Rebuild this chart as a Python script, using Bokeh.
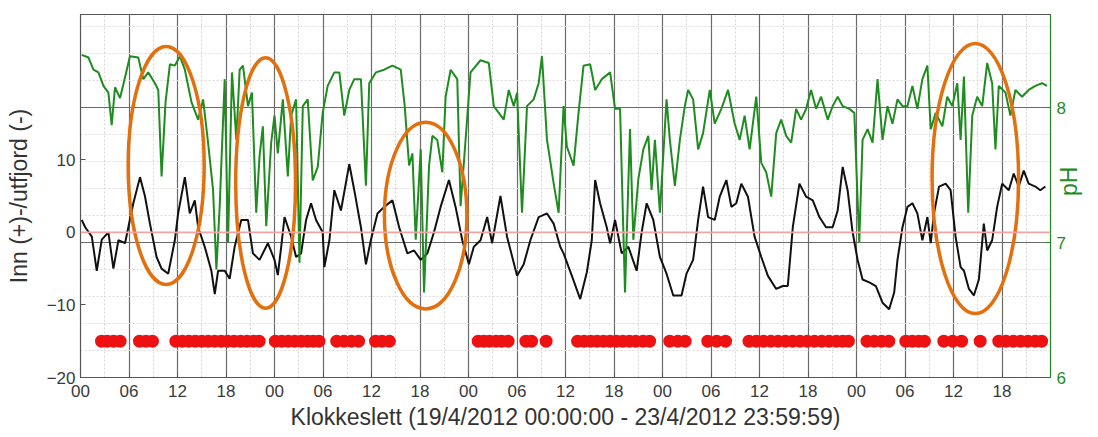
import math
from bokeh.plotting import figure
from bokeh.models import Range1d, LinearAxis, FixedTicker, Grid, Span
from bokeh.embed import file_html
from bokeh.resources import INLINE

# ---------------- data (hours since 19/4/2012 00:00) ----------------
black_h = [0.16,0.58,1.40,2.01,2.63,3.45,4.07,4.69,5.51,5.92,6.54,7.36,7.97,8.59,9.41,10.03,10.85,11.67,12.08,12.91,
           13.52,14.14,14.55,15.37,16.19,16.61,17.02,17.84,18.45,19.07,19.89,20.72,21.33,22.15,23.18,24.0,24.41,24.83,25.24,26.06,
           26.67,27.29,27.91,28.52,29.14,29.96,
           30.17,30.79,31.40,32.22,33.25,33.87,34.69,35.31,35.92,36.74,37.57,38.59,39.42,40.44,41.27,42.09,42.91,43.73,44.55,45.58,
           46.40,47.23,48.05,48.66,49.49,50.31,50.92,51.95,52.77,54.01,54.83,55.65,56.68,57.71,58.53,59.35,
           59.76,60.79,61.82,62.64,63.25,63.67,64.28,65.1,65.52,66.13,66.95,67.78,68.80,69.42,70.04,70.86,71.68,72.5,73.33,74.35,
           74.97,75.79,76.41,77.02,77.64,78.46,79.08,79.90,80.52,81.13,81.75,82.57,83.39,84.22,85.04,86.07,86.89,87.5,88.12,88.94,
           89.77,90.59,91.41,92.23,93.05,93.67,94.29,94.90,95.52,96.14,96.75,97.58,98.40,99.22,100.04,100.66,101.07,101.69,102.30,102.92,
           103.53,104.15,104.77,105.18,105.59,106.21,107.03,107.64,108.26,108.88,109.29,109.91,110.52,111.14,111.75,112.17,112.78,113.40,114.02,114.84,
           115.45,116.07,116.69,117.30,118.13,118.74,119.36]
inn_ut = [1.7,0.7,-0.6,-5.3,-1.0,0.0,-5.0,-1.1,-1.5,0.7,4.0,7.6,5.0,1.2,-3.4,-5.0,-5.7,-1.1,2.6,7.6,
          2.6,4.4,0.7,-2.0,-5.3,-8.5,-5.3,-5.3,-6.4,-2.0,1.7,1.7,-2.9,-3.8,-1.5,-3.8,-5.9,-2.0,2.1,-0.6,
          -3.4,-2.9,1.7,4.0,1.7,0.0,
          -4.8,-1.1,5.8,3.0,9.4,5.8,0.7,-4.4,-1.1,2.6,3.5,4.4,0.7,-2.9,-2.5,-3.8,-2.9,0.0,3.5,7.2,
          3.5,-1.1,-4.4,-2.0,-1.1,2.1,-1.5,5.0,-0.6,-6.0,-4.4,-1.1,2.1,2.6,1.2,-2.0,
          -2.9,-6.0,-9.2,-5.5,-1.1,7.2,4.0,0.7,-1.5,1.7,-2.9,-2.0,-5.3,0.0,4.0,1.7,-3.4,-5.7,-8.7,-8.7,
          -5.7,-3.8,1.7,6.3,2.1,1.7,4.9,7.2,3.5,4.0,6.7,4.9,-0.6,-3.4,-6.0,-7.8,-7.4,-7.4,0.7,6.7,
          4.9,4.4,2.1,0.7,0.7,3.0,9.0,5.8,0.0,-3.8,-6.5,-6.9,-7.4,-9.7,-10.6,-8.3,-3.8,0.7,3.5,4.0,
          2.6,-1.1,2.1,-1.5,2.6,6.3,6.7,5.8,-0.6,-4.8,-5.3,-7.8,-8.7,-6.5,1.2,-2.5,-1.1,3.5,6.7,5.8,
          8.1,6.3,8.5,6.7,6.3,5.8,6.3]

ph_h = [0.16,0.99,1.60,2.22,2.84,3.45,3.86,4.27,4.89,5.30,6.12,7.15,7.77,8.38,9.21,9.62,10.03,10.52,11.06,11.67,
        12.29,12.91,13.73,14.55,15.17,15.78,16.40,16.81,17.22,17.84,18.25,18.74,19.28,19.69,20.1,20.72,21.21,21.74,22.15,22.56,
        22.98,23.59,24.0,24.41,25.03,25.65,26.06,26.67,27.09,27.5,28.11,28.73,29.35,
        29.96,30.58,31.40,32.02,32.63,33.25,33.87,34.69,35.31,35.72,36.54,37.57,38.59,39.62,40.11,40.65,41.06,41.47,42.09,42.5,
        43.12,43.53,44.14,44.76,45.17,45.79,46.61,47.02,47.64,48.25,49.49,50.51,51.13,52.36,52.98,53.6,54.01,54.62,55.24,56.06,
        56.68,57.09,57.71,58.53,59.15,
        59.76,60.17,61.0,61.61,62.23,63.05,63.67,64.49,65.52,66.13,66.75,67.36,67.98,68.39,69.01,69.63,70.24,70.65,71.06,71.68,
        72.5,72.91,73.53,74.15,74.76,75.17,75.79,76.41,77.02,77.85,78.46,79.28,80.11,80.93,81.55,82.16,82.78,83.6,84.22,84.83,
        85.45,86.07,86.68,87.30,87.92,88.53,89.15,
        89.77,90.38,91.0,91.62,92.44,93.05,93.67,94.29,95.11,95.73,96.34,96.75,97.37,97.99,98.60,99.22,99.84,100.45,101.07,101.69,
        102.30,102.92,103.53,104.15,104.77,105.18,105.80,106.62,107.23,107.85,108.47,108.88,109.29,109.82,110.32,110.93,111.55,112.17,112.78,113.19,
        113.60,114.43,115.04,115.66,116.48,117.30,118.13,118.95,119.56]
ph_vals = [8.39,8.37,8.28,8.26,8.16,8.11,7.87,8.15,8.07,8.17,8.38,8.37,8.21,8.26,8.18,8.13,7.49,8.04,8.32,8.31,
           8.38,8.28,8.04,7.91,8.06,7.74,7.39,6.80,7.27,8.21,7.00,8.26,7.76,8.28,8.31,8.01,8.11,7.22,7.64,7.86,
           7.12,7.74,7.94,7.66,8.06,7.49,7.94,8.06,6.85,8.01,8.06,7.46,7.56,
           7.96,8.16,8.26,8.26,7.94,8.13,8.21,8.21,7.42,8.18,8.26,8.28,8.31,8.28,8.01,7.57,7.66,7.02,7.69,6.63,
           7.57,7.79,7.76,7.52,8.08,8.28,8.21,7.27,7.76,8.26,8.35,8.33,8.01,7.91,8.13,8.01,8.11,7.22,8.01,8.06,
           8.18,8.38,7.76,7.44,7.22,
           8.01,7.71,7.57,7.96,8.31,8.32,8.13,8.21,8.26,7.99,7.99,6.63,7.84,7.02,7.47,7.69,7.79,7.39,7.76,7.22,
           8.06,7.76,7.42,7.76,8.01,8.13,8.06,7.69,7.81,8.13,7.88,7.99,8.13,7.88,7.76,7.94,7.69,8.08,7.59,7.52,
           7.34,7.81,7.91,7.79,7.74,7.99,7.91,
           7.99,8.13,7.99,8.08,7.91,8.01,8.08,8.01,7.99,7.96,7.00,7.76,7.84,7.74,8.21,7.76,8.01,7.88,8.06,8.01,
           8.01,8.16,7.99,8.21,8.31,7.84,7.96,7.86,8.08,8.01,8.18,7.76,8.23,7.22,7.94,8.08,8.01,8.33,8.18,7.69,
           8.16,8.11,7.94,8.13,8.08,8.13,8.16,8.18,8.16]

flag_h = [2.6,3.3,4.1,4.9, 7.3,8.1,8.9,
          11.8,12.6,13.4,14.2,15.0,15.8,16.6,17.4,18.2,19.0,19.8,20.6,21.4,22.1,
          24.1,24.9,25.7,26.5,27.3,28.1,28.8,29.5, 31.7,32.6,33.5,34.4, 36.5,37.3,38.2,
          49.2,49.9,50.6,51.4,52.1,52.9, 55.1,55.8, 57.6,
          61.5,62.3,63.1,63.9,64.7,65.5,66.3,67.1,67.9,68.7,69.6,70.4, 72.9,73.9,74.8, 77.6,78.7,79.8,
          82.7,83.6,84.5,85.4,86.3,87.2,88.1,89.0,89.9,90.8,91.7,92.6,93.5,94.3,95.0,
          97.3,98.2,99.1,100.0, 102.1,102.9,103.7,104.4, 106.8,107.9,109.0, 111.3,
          113.6,114.5,115.4,116.3,117.2,118.1,118.9]
flag_level = -15

# highlighted periods (orange ellipses): centre hour, centre value, width (h), height
mark_x = [10.6, 22.9, 42.7, 110.7]
mark_y = [9.2, 6.8, 2.3, 7.4]
mark_w = [9.4, 7.4, 10.2, 10.7]
mark_hgt = [32.8, 34.5, 25.7, 37.2]

x_ticks = list(range(0, 115, 6))
x_tick_labels = {t: "%02d" % (t % 24) for t in x_ticks}
left_ticks = [-20, -10, 0, 10]
ph_ticks = [6, 7, 8]
ph_minor = [6.2, 6.4, 6.6, 6.8, 7.2, 7.4, 7.6, 7.8, 8.2, 8.4, 8.6]

FONT = "Liberation Sans"
GREEN = "#1e8c1e"
AXC = "#555555"
TXT = "#3a3a3a"

p = figure(width=1098, height=437, output_backend="svg", toolbar_location=None,
           x_range=Range1d(0, 120), y_range=Range1d(-20, 30),
           min_border_left=80, min_border_right=48, min_border_top=14, min_border_bottom=60,
           background_fill_color="white", border_fill_color="white")
p.extra_y_ranges = {"ph": Range1d(6, 6 + 363 / 135.0)}

# grids
p.ygrid.visible = False
p.xgrid.ticker = FixedTicker(ticks=list(range(0, 121, 6)), minor_ticks=list(range(0, 121, 3)))
p.xgrid.grid_line_color = "#6a6a6a"
p.xgrid.grid_line_width = 1.2
p.xgrid.minor_grid_line_color = "#d4d4d4"
p.xgrid.minor_grid_line_dash = "2 2"
phgrid = Grid(dimension=1, y_range_name="ph", ticker=FixedTicker(ticks=[7, 8], minor_ticks=ph_minor),
              grid_line_color="#6a6a6a", grid_line_width=1.2,
              minor_grid_line_color="#e0d8d8", minor_grid_line_dash="2 2")
p.add_layout(phgrid)
p.add_layout(Span(location=0, dimension="width", line_color="#f2a3a3", line_width=1.8))

p.outline_line_color = AXC
p.outline_line_width = 1.2

# axes
xa = p.xaxis[0]
xa.ticker = FixedTicker(ticks=x_ticks)
xa.major_label_overrides = x_tick_labels
xa.axis_label = "Klokkeslett (19/4/2012 00:00:00 - 23/4/2012 23:59:59)"
ya = p.yaxis[0]
ya.ticker = FixedTicker(ticks=left_ticks)
ya.axis_label = "Inn (+)-/utfjord (-)"
for ax in (xa, ya):
    ax.axis_line_color = AXC
    ax.major_tick_line_color = AXC
    ax.major_tick_in = 5
    ax.major_tick_out = 0
    ax.minor_tick_in = 0
    ax.minor_tick_out = 0
    ax.major_label_text_font = FONT
    ax.major_label_text_font_size = "17px"
    ax.major_label_text_color = TXT
    ax.axis_label_text_font = FONT
    ax.axis_label_text_font_size = "23px"
    ax.axis_label_text_font_style = "normal"
    ax.axis_label_text_color = "#333333"
xa.major_label_standoff = 7
xa.axis_label_standoff = 4
ya.major_label_standoff = 5
ya.axis_label_standoff = 12

ra = LinearAxis(y_range_name="ph", ticker=FixedTicker(ticks=ph_ticks))
ra.axis_line_color = GREEN
ra.major_tick_line_color = GREEN
ra.major_tick_in = 5
ra.major_tick_out = 0
ra.minor_tick_in = 0
ra.minor_tick_out = 0
ra.major_label_text_font = FONT
ra.major_label_text_font_size = "17px"
ra.major_label_text_color = GREEN
ra.major_label_standoff = 6
ra.axis_label = "pH"
ra.axis_label_text_font = FONT
ra.axis_label_text_font_size = "23px"
ra.axis_label_text_font_style = "normal"
ra.axis_label_text_color = GREEN
ra.axis_label_standoff = 0
if hasattr(ra, "axis_label_orientation"):
    ra.axis_label_orientation = math.pi / 2
p.add_layout(ra, "right")

# series
p.line(black_h, inn_ut, line_color="#111111", line_width=2)
p.scatter(flag_h, [flag_level] * len(flag_h), size=13, fill_color="#ee1111",
          line_color="#ee1111", line_width=0)
p.line(ph_h, ph_vals, y_range_name="ph", line_color=GREEN, line_width=2)
p.ellipse(x=mark_x, y=mark_y, width=mark_w, height=mark_hgt, fill_color=None,
          line_color="#e2700f", line_width=3.5)

open("out.html", "w").write(file_html(p, INLINE))
